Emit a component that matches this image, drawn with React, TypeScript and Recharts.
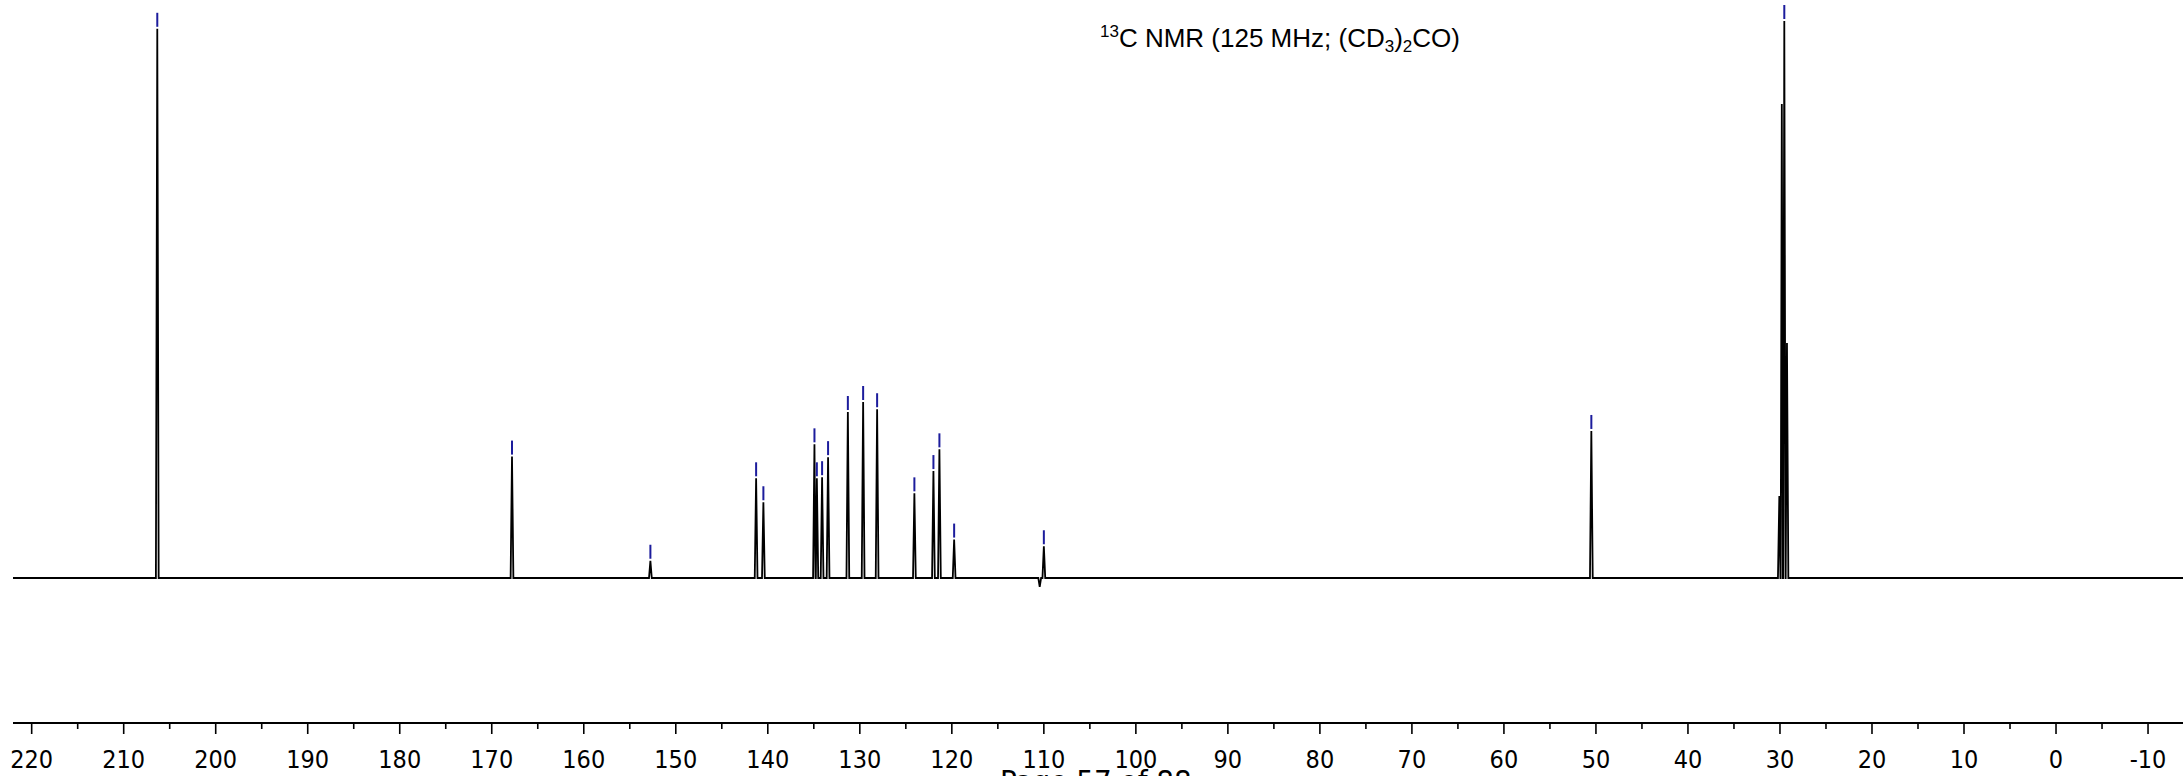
import { ComposedChart, Line, Scatter, XAxis, YAxis } from "recharts";

// chemical shift (ppm) of each line and its height (tallest solvent line = 100)
const peakShifts = [
  206.35, 167.8, 152.76, 141.27, 140.48, 134.93, 134.67, 134.1, 133.45, 131.3,
  129.64, 128.12, 124.07, 122.0, 121.35, 119.75, 110.45, 110.0, 50.5, 30.07,
  29.8, 29.53, 29.24,
];
const peakHeights = [
  98.6, 21.8, 3.1, 17.9, 13.6, 24.0, 17.9, 18.1, 21.7, 29.8, 31.6, 30.3, 15.2,
  19.2, 23.1, 6.9, -1.6, 5.7, 26.4, 14.7, 85.1, 100, 42.2,
];
// peaks that carry a blue peak-picking mark
const peakPicked = [
  true, true, true, true, true, true, true, true, true, true, true, true, true,
  true, true, true, false, true, true, false, false, true, false,
];

const majorTicks = [220, 210, 200, 190, 180, 170, 160, 150, 140, 130, 120, 110, 100, 90, 80, 70, 60, 50, 40, 30, 20, 10, 0, -10];
const minorTicks = [215, 205, 195, 185, 175, 165, 155, 145, 135, 125, 115, 105, 95, 85, 75, 65, 55, 45, 35, 25, 15, 5, -5];

const PPM_MIN = -13.8;
const PPM_MAX = 222.03;
const HALF_WIDTH = 0.15;

const spectrum: { ppm: number; h: number }[] = [
  { ppm: PPM_MAX, h: 0 },
  { ppm: PPM_MIN, h: 0 },
];
peakShifts.forEach((s, i) => {
  spectrum.push({ ppm: s + HALF_WIDTH, h: 0 });
  spectrum.push({ ppm: s, h: peakHeights[i] });
  spectrum.push({ ppm: s - HALF_WIDTH, h: 0 });
});
spectrum.sort((a, b) => b.ppm - a.ppm);

const marks = peakShifts
  .map((s, i) => ({ ppm: s, h: peakHeights[i] }))
  .filter((_, i) => peakPicked[i]);

const AXIS_FONT = "'DejaVu Sans Condensed', 'DejaVu Sans', sans-serif";

function PpmTick({ x, y, payload }: any) {
  const major = majorTicks.includes(payload.value);
  return (
    <g>
      <line x1={x} x2={x} y1={y} y2={y + (major ? 11 : 6)} stroke="#000" strokeWidth={1.6} />
      {major && (
        <text x={x} y={y + 45} textAnchor="middle" fontSize={25} fontFamily={AXIS_FONT} fill="#000">
          {payload.value}
        </text>
      )}
    </g>
  );
}

function PickMark(props: any) {
  const { cx, cy } = props;
  return <line x1={cx} x2={cx} y1={cy - 2} y2={cy - 16} stroke="#1c1c9c" strokeWidth={2} />;
}

export default function App() {
  return (
    <div
      style={{
        position: "absolute",
        left: 0,
        top: 0,
        width: 2183,
        height: 776,
        overflow: "hidden",
        background: "#fff",
      }}
    >
      <ComposedChart width={2183} height={776} margin={{ top: 0, right: 0, bottom: 0, left: 13 }}>
        <XAxis
          dataKey="ppm"
          type="number"
          domain={[PPM_MIN, PPM_MAX]}
          reversed
          allowDataOverflow
          ticks={[...majorTicks, ...minorTicks]}
          interval={0}
          height={53}
          tickSize={0}
          tickMargin={0}
          tickLine={false}
          axisLine={{ stroke: "#000", strokeWidth: 2 }}
          tick={<PpmTick />}
        />
        <YAxis type="number" domain={[-26.03, 103.77]} allowDataOverflow hide width={0} />
        <Line
          data={spectrum}
          dataKey="h"
          type="linear"
          stroke="#000"
          strokeWidth={1.8}
          dot={false}
          activeDot={false}
          isAnimationActive={false}
        />
        <Scatter data={marks} dataKey="h" shape={<PickMark />} isAnimationActive={false} />
      </ComposedChart>
      <svg
        width={2183}
        height={776}
        style={{ position: "absolute", left: 0, top: 0, pointerEvents: "none" }}
      >
        <text x={1100} y={47} fontSize={26} fontFamily="'Liberation Sans', Arial, sans-serif" fill="#000">
          <tspan fontSize={17} dy={-10}>13</tspan>
          <tspan dy={10}>C NMR (125 MHz; (CD</tspan>
          <tspan fontSize={17} dy={5}>3</tspan>
          <tspan dy={-5}>)</tspan>
          <tspan fontSize={17} dy={5}>2</tspan>
          <tspan dy={-5}>CO)</tspan>
        </text>
        <text x={1000} y={792} fontSize={31} fontFamily={AXIS_FONT} fill="#000">
          Page 57 of 88
        </text>
      </svg>
    </div>
  );
}
